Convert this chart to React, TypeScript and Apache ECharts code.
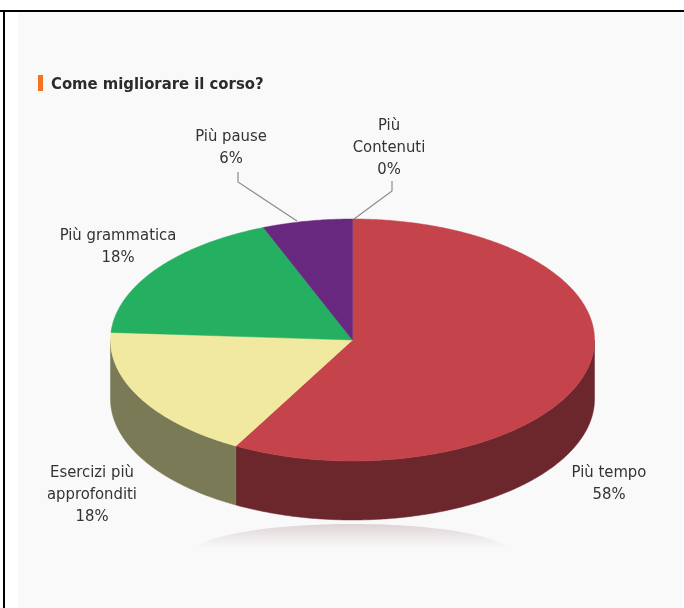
import React, { useEffect, useRef } from "react";
import * as echarts from "echarts";

const categories = ["Più tempo", "Esercizi più\napprofonditi", "Più grammatica", "Più pause", "Più\nContenuti"];
const values = [58, 18, 18, 6, 0];
const topColors = ["#c5434a", "#f0e99f", "#25b061", "#68287f", "#c5434a"];
const sideColors = ["#6b272c", "#7a7b56", "#14733c", "#40184f", "#6b272c"];
const titleText = "Come migliorare il corso?";

const CX = 352.5, CY = 340, RX = 242, RY = 121, DEPTH = 59;
const FONT = "'DejaVu Sans Condensed', 'DejaVu Sans', sans-serif";

const labelBoxes = [
  { x: 609, y: 460 },
  { x: 92, y: 460 },
  { x: 118, y: 223 },
  { x: 231, y: 124 },
  { x: 389, y: 113 },
];
const leaderLines: number[][][] = [
  [],
  [],
  [],
  [[238, 172], [238, 182], [297, 221]],
  [[392, 181], [392, 191], [354, 219]],
];

const total = values.reduce((a, b) => a + b, 0);
const starts: number[] = [];
values.reduce((acc, v, i) => {
  starts[i] = acc;
  return acc + v;
}, 0);

const pt = (t: number, dy = 0): number[] => [CX + RX * Math.sin(t), CY - RY * Math.cos(t) + dy];

function arcPoints(a: number, b: number, dy = 0): number[][] {
  const pts: number[][] = [];
  const steps = Math.max(2, Math.ceil(Math.abs(b - a) / 0.01));
  for (let i = 0; i <= steps; i++) pts.push(pt(a + ((b - a) * i) / steps, dy));
  return pts;
}

const renderSlice = (_: any, api: any) => {
  const i = api.value(0) as number;
  const a = (api.value(1) / total) * Math.PI * 2;
  const b = a + (api.value(2) / total) * Math.PI * 2;
  const children: any[] = [];
  const s0 = Math.max(a, Math.PI / 2);
  const s1 = Math.min(b, (Math.PI * 3) / 2);
  if (s1 > s0) {
    children.push({
      type: "polygon",
      shape: { points: [...arcPoints(s0, s1), ...arcPoints(s1, s0, DEPTH)] },
      style: { fill: sideColors[i], stroke: sideColors[i], lineWidth: 0.5 },
    });
  }
  if (b > a) {
    children.push({
      type: "polygon",
      shape: { points: [[CX, CY], ...arcPoints(a, b)] },
      style: { fill: topColors[i], stroke: topColors[i], lineWidth: 0.5 },
    });
  }
  if (leaderLines[i].length) {
    children.push({
      type: "polyline",
      shape: { points: leaderLines[i] },
      style: { fill: "none", stroke: "#8c8c88", lineWidth: 1.2 },
    });
  }
  children.push({
    type: "text",
    style: {
      x: labelBoxes[i].x,
      y: labelBoxes[i].y,
      text: `${categories[i]}\n${values[i]}%`,
      fill: "#333333",
      font: `16.5px ${FONT}`,
      lineHeight: 22,
      align: "center",
      verticalAlign: "top",
    },
  });
  return { type: "group", children };
};

export default function App() {
  const ref = useRef<HTMLDivElement>(null);
  useEffect(() => {
    document.body.style.margin = "0";
    document.body.style.background = "#fff";
    const chart = echarts.init(ref.current!, undefined, { renderer: "svg" });
    chart.setOption({
      animation: false,
      backgroundColor: "#ffffff",
      graphic: [
        { type: "rect", z: 0, shape: { x: 18, y: 12, width: 664, height: 596 }, style: { fill: "#f9f9f9" } },
        { type: "rect", z: 0, shape: { x: 0, y: 10, width: 684, height: 2 }, style: { fill: "#000" } },
        { type: "rect", z: 0, shape: { x: 3, y: 10, width: 2, height: 598 }, style: { fill: "#000" } },
        { type: "rect", z: 1, shape: { x: 38, y: 75, width: 5, height: 16 }, style: { fill: "#f47321" } },
        {
          type: "text",
          z: 1,
          style: {
            x: 51,
            y: 83,
            text: titleText,
            fill: "#2b2b2b",
            font: `bold 16.5px ${FONT}`,
            verticalAlign: "middle",
          },
        },
        {
          type: "ellipse",
          z: 1,
          shape: { cx: 352, cy: 553, rx: 158, ry: 29 },
          style: {
            fill: {
              type: "linear", x: 0, y: 0, x2: 0, y2: 1,
              colorStops: [
                { offset: 0, color: "#ddd3d5" },
                { offset: 0.18, color: "#ebe5e6" },
                { offset: 0.42, color: "#f9f9f9" },
                { offset: 1, color: "#f9f9f9" },
              ],
            },
          },
        },
      ],
      series: [
        {
          type: "custom",
          coordinateSystem: "none",
          z: 5,
          renderItem: renderSlice,
          data: values.map((v, i) => [i, starts[i], v]),
        },
      ],
    });
    return () => chart.dispose();
  }, []);
  return <div ref={ref} style={{ width: 684, height: 608, filter: "blur(0.4px)" }} />;
}
